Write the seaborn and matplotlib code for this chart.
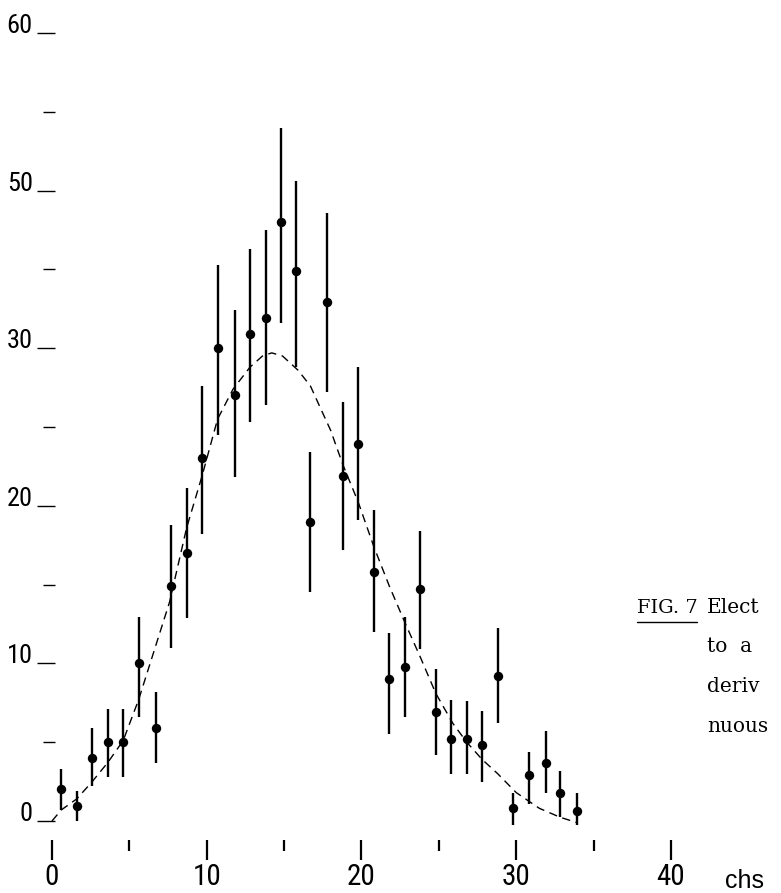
import matplotlib
matplotlib.use("Agg")
import matplotlib.pyplot as plt
from matplotlib import font_manager as fm
from matplotlib.font_manager import FontProperties
from matplotlib.lines import Line2D
from matplotlib.ticker import FixedLocator, FixedFormatter
import pandas as pd
import seaborn as sns

# ---- measured spectrum: channel centre, counts and error-bar ends ----
channel = [0.6, 1.6, 2.6, 3.6, 4.6, 5.6, 6.7, 7.7, 8.7, 9.7,
           10.7, 11.8, 12.8, 13.8, 14.8, 15.8, 16.7, 17.8, 18.8, 19.8,
           20.8, 21.8, 22.8, 23.8, 24.8, 25.8, 26.8, 27.8, 28.8, 29.8,
           30.8, 31.9, 32.8, 33.9]
counts = [2.0, 0.95, 4.0, 5.0, 5.0, 10.0, 5.9, 14.9, 17.0, 23.0,
          30.0, 27.0, 30.9, 31.9, 38.0, 34.9, 19.0, 32.9, 21.9, 23.9,
          15.8, 9.0, 9.8, 14.7, 6.9, 5.2, 5.2, 4.8, 9.2, 0.8,
          2.9, 3.7, 1.8, 0.65]
bar_low = [0.7, 0.0, 2.2, 2.8, 2.8, 6.6, 3.7, 11.0, 12.9, 18.2,
           24.5, 21.8, 25.3, 26.4, 31.6, 28.8, 14.5, 27.2, 17.2, 19.1,
           12.0, 5.5, 6.6, 10.9, 4.2, 3.0, 3.0, 2.5, 6.2, -0.25,
           1.1, 1.8, 0.25, -0.25]
bar_high = [3.3, 1.9, 5.9, 7.1, 7.1, 12.95, 8.2, 18.8, 21.1, 27.6,
            35.3, 32.4, 36.3, 37.5, 44.0, 40.6, 23.4, 38.6, 26.6, 28.8,
            19.7, 11.9, 12.95, 18.4, 9.65, 7.7, 7.6, 7.0, 12.25, 1.8,
            4.4, 5.7, 3.2, 1.8]

# ---- fitted curve, sampled along the channel axis ----
fit_channel = [0.0, 0.6, 1.6, 2.6, 3.6, 4.6, 5.6, 6.6, 7.6, 8.7,
               9.7, 10.7, 11.7, 12.8, 13.6, 14.2, 14.9, 15.9, 16.7, 17.3,
               18.0, 18.8, 19.8, 20.8, 21.8, 22.8, 23.8, 24.8, 25.9, 26.8,
               27.8, 28.8, 30.0, 31.5, 32.8, 33.9]
fit_counts = [0.0, 0.7, 1.4, 2.5, 3.7, 5.1, 7.7, 10.8, 13.9, 18.6,
              21.9, 25.5, 27.4, 28.8, 29.5, 29.7, 29.5, 28.6, 27.6, 26.3,
              24.8, 22.6, 20.2, 17.4, 14.9, 12.6, 10.4, 8.1, 6.2, 5.0,
              3.9, 3.0, 1.8, 0.8, 0.25, -0.1]

# ---- axis ticks and text ----
x_major = [0, 10, 20, 30, 40]
x_minor = [5, 15, 25, 35]
x_labels = ["0", "10", "20", "30", "40"]
y_major = [0, 10, 20, 30, 40, 50]
y_minor = [5, 15, 25, 35, 45]
y_labels = ["0", "10", "20", "30", "50", "60"]
x_unit = "chs"
caption_tag = "FIG. 7"
caption_lines = ["Elect", "to  a", "deriv", "nuous"]

spectrum = pd.DataFrame({"channel": channel, "counts": counts,
                         "low": bar_low, "high": bar_high})
fit = pd.DataFrame({"channel": fit_channel, "counts": fit_counts})

sns.set_theme(style="white")

# a narrow sans face for the numerals, if one is installed
installed = {(f.name, f.stretch) for f in fm.fontManager.ttflist}
names = {n for n, _ in installed}
narrow = None
for fam in ["Liberation Sans Narrow", "Roboto Condensed", "Open Sans Condensed",
            "Arial Narrow"]:
    if fam in names:
        narrow = dict(family=fam)
        break
if narrow is None:
    if ("DejaVu Sans", "condensed") in installed:
        narrow = dict(family="DejaVu Sans", stretch="condensed")
    else:
        narrow = dict(family="DejaVu Sans")
y_num_fp = FontProperties(size=19, **narrow)
x_num_fp = FontProperties(size=21, **narrow)

fig = plt.figure(figsize=(7.81, 8.93), dpi=100)
ax = fig.add_axes([0, 0, 1, 1])
ax.set_xlim(-3.36, 47.11)
ax.set_ylim(-4.57, 52.09)

# error bars, points and the fitted curve
ax.vlines(spectrum["channel"], spectrum["low"], spectrum["high"],
          color="black", linewidth=1.7, zorder=2)
sns.scatterplot(data=spectrum, x="channel", y="counts", ax=ax, color="black",
                s=46, linewidth=0, zorder=3, legend=False)
sns.lineplot(data=fit, x="channel", y="counts", ax=ax, color="black",
             linewidth=1.0, sort=False, zorder=1, legend=False)
ax.lines[-1].set_dashes((6, 4))

# floating axes: invisible spines, ticks only
for side in ["top", "right", "left", "bottom"]:
    ax.spines[side].set_visible(False)
ax.spines["left"].set_position(("data", 0.19))
ax.spines["bottom"].set_position(("data", -1.21))

ax.xaxis.set_major_locator(FixedLocator(x_major))
ax.xaxis.set_minor_locator(FixedLocator(x_minor))
ax.xaxis.set_major_formatter(FixedFormatter(x_labels))
ax.yaxis.set_major_locator(FixedLocator(y_major))
ax.yaxis.set_minor_locator(FixedLocator(y_minor))
ax.yaxis.set_major_formatter(FixedFormatter(y_labels))

ax.tick_params(axis="both", which="both", bottom=True, left=True, top=False,
               right=False, direction="out", color="black", labelcolor="black")
ax.tick_params(axis="y", which="major", length=13, width=1.0, pad=3)
ax.tick_params(axis="y", which="minor", length=9, width=1.0)
ax.tick_params(axis="x", which="major", length=14.4, width=1.6, pad=2)
ax.tick_params(axis="x", which="minor", length=8, width=1.6)
ax.set_xlabel("")
ax.set_ylabel("")

for tick in ax.yaxis.get_major_ticks():
    tick.label1.set_fontproperties(y_num_fp)
    tick.label1.set_verticalalignment("baseline")
for tick in ax.xaxis.get_major_ticks():
    tick.label1.set_fontproperties(x_num_fp)

# unit label and caption
fig.text(725 / 781, 5 / 893, x_unit, family="Liberation Sans", fontsize=18,
         ha="left", va="baseline", color="black")

serif = "DejaVu Serif"
fig.text(637 / 781, 1 - 613 / 893, caption_tag, family=serif, fontsize=14,
         ha="left", va="baseline", color="black")
fig.add_artist(Line2D([637 / 781, 697 / 781], [1 - 622 / 893, 1 - 622 / 893],
                      transform=fig.transFigure, color="black", linewidth=1.0))
for i, line in enumerate(caption_lines):
    fig.text(707 / 781, 1 - (613 + 39.5 * i) / 893, line, family=serif,
             fontsize=14.5, ha="left", va="baseline", color="black")

fig.savefig("out.png", dpi=100)
